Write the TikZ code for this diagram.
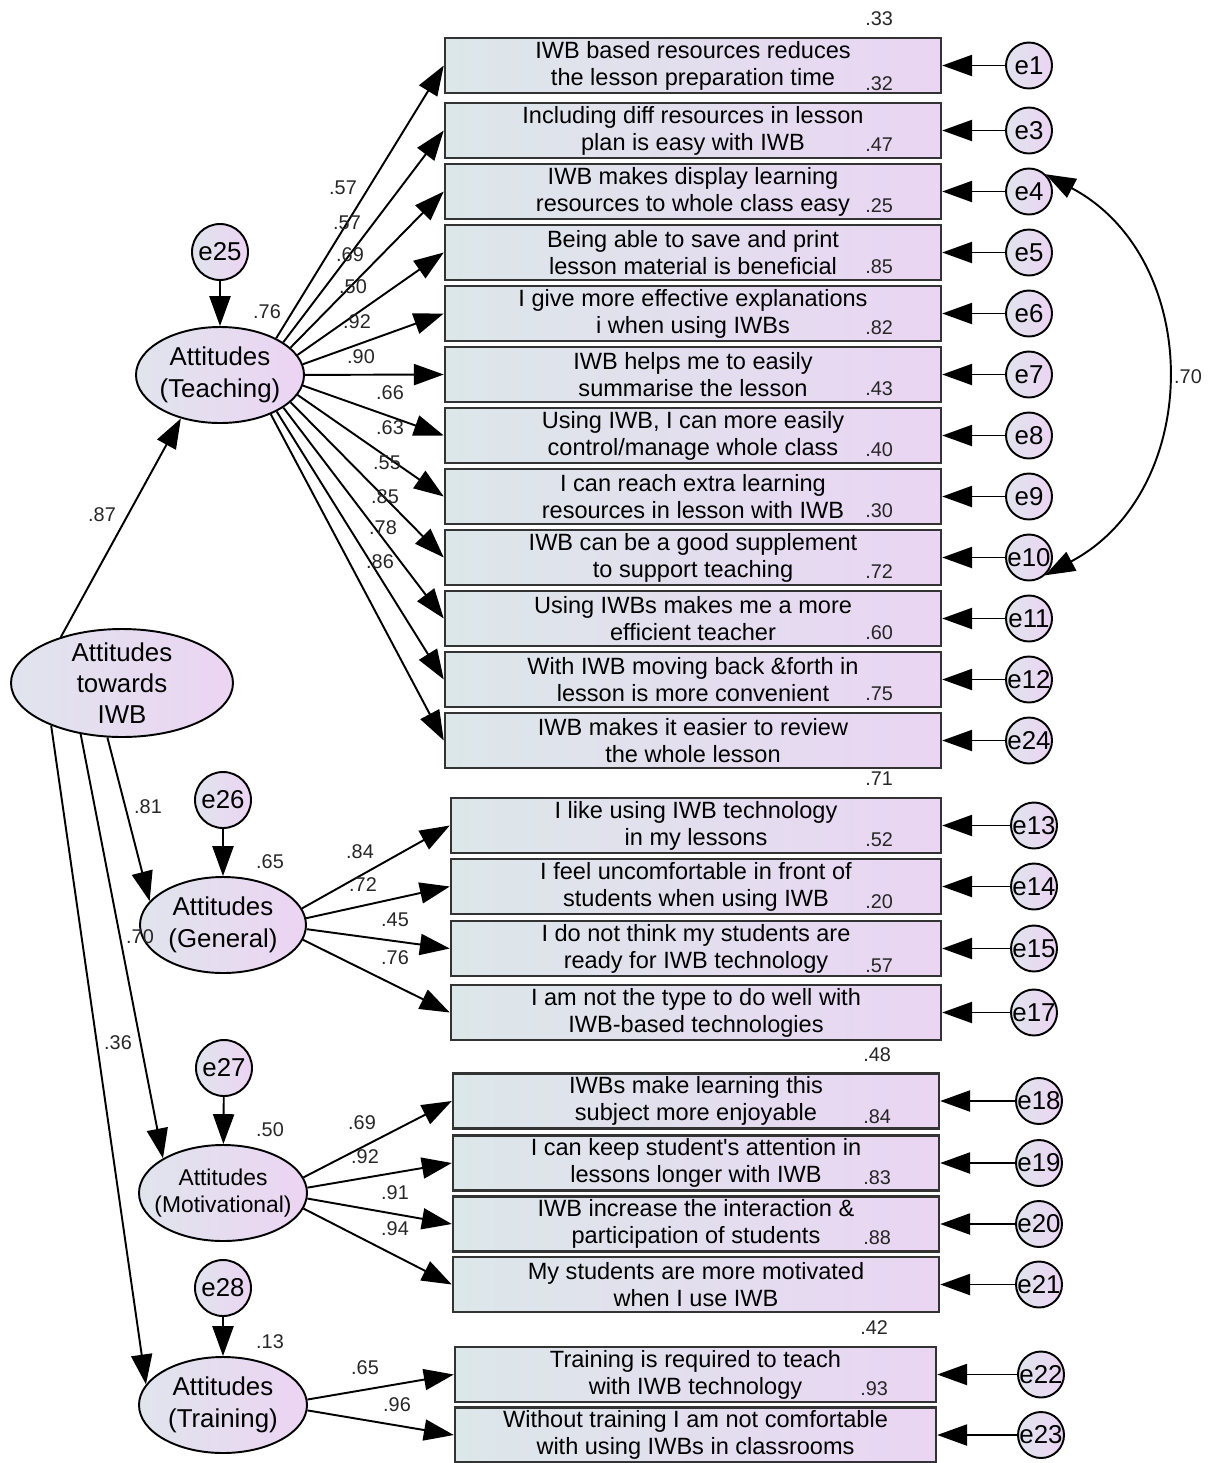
\documentclass[tikz,border=0pt]{standalone}
\usepackage{fontspec}
\setmainfont{Liberation Sans}
\usetikzlibrary{arrows.meta, shapes.geometric}

\definecolor{boxleft}{RGB}{220,231,233}
\definecolor{boxright}{RGB}{234,213,243}
\definecolor{latleft}{RGB}{224,228,237}
\definecolor{latright}{RGB}{236,212,243}

\begin{document}
\begin{tikzpicture}[
		>={Triangle[length=17pt, width=12pt]},
		item/.style={draw=black!80, line width=1.4pt, rectangle, minimum width=9.92cm, minimum height=1.1cm, inner sep=0pt, left color=boxleft, right color=boxright, align=center, font=\fontsize{13.4}{15.3}\selectfont},
		latent/.style={draw, ellipse, line width=1.1pt, minimum width=3.36cm, minimum height=1.92cm, inner sep=-12pt, left color=latleft, right color=latright, align=center, font=\fontsize{14.7}{18.1}\selectfont},
		err/.style={draw, circle, line width=1.1pt, minimum size=0.92cm, inner sep=-4pt, left color=latleft, right color=latright, font=\fontsize{14.7}{16}\selectfont},
		disturb/.style={err, minimum size=1.12cm},
		weight/.style={font=\fontsize{11.3}{12}\selectfont, text=black!85, inner sep=0pt},
		link/.style={->, line width=1.1pt}
		]
		
		\useasboundingbox (0,0) rectangle (24.4,-29.26);
		
		% --- LATENT FACTORS ---
		\node[latent, minimum width=4.44cm, minimum height=2.16cm, font=\fontsize{14.7}{17.6}\selectfont] (iwb) at (2.44,-13.66) {Attitudes\\towards\\IWB};
		\node[latent] (teach) at (4.40,-7.50) {Attitudes\\(Teaching)};
		\node[latent, minimum width=3.32cm] (gen) at (4.46,-18.50) {Attitudes\\(General)};
		\node[latent, font=\fontsize{13}{15.3}\selectfont] (motiv) at (4.46,-23.86) {Attitudes\\(Motivational)};
		\node[latent] (train) at (4.46,-28.10) {Attitudes\\(Training)};
		
		% disturbances
		\node[disturb] (e25) at (4.40,-5.04) {e25};
		\node[disturb] (e26) at (4.46,-16.00) {e26};
		\node[disturb] (e27) at (4.48,-21.36) {e27};
		\node[disturb] (e28) at (4.46,-25.76) {e28};
		
		% --- TEACHING ITEMS ---
		\node[item] (t1) at (13.86,-1.31) {IWB based resources reduces\\the lesson preparation time};
		\node[item] (t2) at (13.86,-2.61) {Including diff resources in lesson\\plan is easy with IWB};
		\node[item] (t3) at (13.86,-3.83) {IWB makes display learning\\resources to whole class easy};
		\node[item] (t4) at (13.86,-5.05) {Being able to save and print\\lesson material is beneficial};
		\node[item] (t5) at (13.86,-6.27) {I give more effective explanations\\i when using IWBs};
		\node[item] (t6) at (13.86,-7.49) {IWB helps me to easily\\summarise the lesson};
		\node[item] (t7) at (13.86,-8.71) {Using IWB, I can more easily\\control/manage whole class};
		\node[item] (t8) at (13.86,-9.93) {I can reach extra learning\\resources in lesson with IWB};
		\node[item] (t9) at (13.86,-11.15) {IWB can be a good supplement\\to support teaching};
		\node[item] (t10) at (13.86,-12.37) {Using IWBs makes me a more\\efficient teacher};
		\node[item] (t11) at (13.86,-13.59) {With IWB moving back \&forth in\\lesson is more convenient};
		\node[item] (t12) at (13.86,-14.81) {IWB makes it easier to review\\the whole lesson};
		
		% --- GENERAL ITEMS ---
		\node[item, minimum width=9.8cm] (g1) at (13.92,-16.51) {I like using IWB technology\\in my lessons};
		\node[item, minimum width=9.8cm] (g2) at (13.92,-17.73) {I feel uncomfortable in front of\\students when using IWB};
		\node[item, minimum width=9.8cm] (g3) at (13.92,-18.97) {I do not think my students are\\ready for IWB technology};
		\node[item, minimum width=9.8cm] (g4) at (13.92,-20.25) {I am not the type to do well with\\IWB-based technologies};
		
		% --- MOTIVATIONAL ITEMS ---
		\node[item, minimum width=9.72cm] (m1) at (13.92,-22.02) {IWBs make learning this\\subject more enjoyable};
		\node[item, minimum width=9.72cm] (m2) at (13.92,-23.26) {I can keep student\textquotesingle s attention in\\lessons longer with IWB};
		\node[item, minimum width=9.72cm] (m3) at (13.92,-24.48) {IWB increase the interaction \&\\participation of students};
		\node[item, minimum width=9.72cm] (m4) at (13.92,-25.69) {My students are more motivated\\when I use IWB};
		
		% --- TRAINING ITEMS ---
		\node[item, minimum width=9.62cm] (r1) at (13.91,-27.49) {Training is required to teach\\with IWB technology};
		\node[item, minimum width=9.62cm] (r2) at (13.91,-28.70) {Without training I am not comfortable\\with using IWBs in classrooms};
		
		% --- ERROR TERMS ---
		\foreach \e/\y in {e1/-1.31, e3/-2.61, e4/-3.83, e5/-5.05, e6/-6.27, e7/-7.49, e8/-8.71, e9/-9.93, e10/-11.15, e11/-12.37, e12/-13.59, e24/-14.81} {
			\node[err] (\e) at (20.58,\y) {\e};
		}
		\foreach \e/\y in {e13/-16.51, e14/-17.73, e15/-18.97, e17/-20.25} {
			\node[err] (\e) at (20.68,\y) {\e};
		}
		\foreach \e/\y in {e18/-22.02, e19/-23.26, e20/-24.48, e21/-25.69} {
			\node[err] (\e) at (20.78,\y) {\e};
		}
		\foreach \e/\y in {e22/-27.49, e23/-28.70} {
			\node[err] (\e) at (20.82,\y) {\e};
		}
		
		% --- LOADINGS ---
		\foreach \b/\e in {t1/e1, t2/e3, t3/e4, t4/e5, t5/e6, t6/e7, t7/e8, t8/e9, t9/e10, t10/e11, t11/e12, t12/e24} {
			\draw[link] (\e) -- (\b);
			\path (teach) -- (\b) coordinate[pos=0] (s\b);
			\draw[link] (s\b) -- (\b.west);
		}
		\foreach \b/\e in {g1/e13, g2/e14, g3/e15, g4/e17} {
			\draw[link] (\e) -- (\b);
			\path (gen) -- (\b) coordinate[pos=0] (s\b);
			\draw[link] (s\b) -- (\b.west);
		}
		\foreach \b/\e in {m1/e18, m2/e19, m3/e20, m4/e21} {
			\draw[link] (\e) -- (\b);
			\path (motiv) -- (\b) coordinate[pos=0] (s\b);
			\draw[link] (s\b) -- (\b.west);
		}
		\foreach \b/\e in {r1/e22, r2/e23} {
			\draw[link] (\e) -- (\b);
			\path (train) -- (\b) coordinate[pos=0] (s\b);
			\draw[link] (s\b) -- (\b.west);
		}
		
		% second order paths and disturbances
		\draw[link] (iwb.143) -- (teach.228);
		\draw[link] (iwb.255) -- (gen.162);
		\draw[link] (iwb.231) -- (motiv.150);
		\draw[link] (iwb.211) -- (train.165);
		\draw[link] (e25) -- (teach);
		\draw[link] (e26) -- (gen);
		\draw[link] (e27) -- (motiv);
		\draw[link] (e28) -- (train);
		
		% correlated errors
		\draw[<->, line width=1.1pt] (e4.46) to[out=-28, in=28, looseness=1.15] (e10.-48);
		
		% --- ESTIMATES ---
		\foreach \w/\x/\y [count=\k] in {.57/6.86/-3.76, .57/6.94/-4.46, .69/7.00/-5.10, .50/7.06/-5.74, .92/7.14/-6.44, .90/7.22/-7.14, .66/7.80/-7.86, .63/7.80/-8.56, .55/7.74/-9.26, .85/7.70/-9.94, .78/7.66/-10.56, .86/7.60/-11.24, .84/7.20/-17.04, .72/7.26/-17.70, .45/7.90/-18.40, .76/7.90/-19.16, .69/7.24/-22.46, .92/7.30/-23.14, .91/7.90/-23.86, .94/7.90/-24.58, .65/7.30/-27.36, .96/7.94/-28.10, .76/5.34/-6.24, .65/5.40/-17.24, .50/5.40/-22.60, .13/5.40/-26.84, .87/2.04/-10.30, .81/2.96/-16.14, .70/2.80/-18.74, .36/2.36/-20.86, .70/23.76/-7.54} {
			\node[weight] (lt\k) at (\x,\y) {\w};
		}
		
		% squared multiple correlations
		\foreach \b/\r in {t1/.33, t2/.32, t3/.47, t4/.25, t5/.85, t6/.82, t7/.43, t8/.40, t9/.30, t10/.72, t11/.60, t12/.75, g1/.71, g2/.52, g3/.20, g4/.57, m1/.48, m2/.84, m3/.83, m4/.88, r1/.42, r2/.93} {
			\node[weight] (sq\b) at ([xshift=-1.26cm, yshift=0.36cm]\b.north east) {\r};
		}
		
	\end{tikzpicture}
\end{document}
